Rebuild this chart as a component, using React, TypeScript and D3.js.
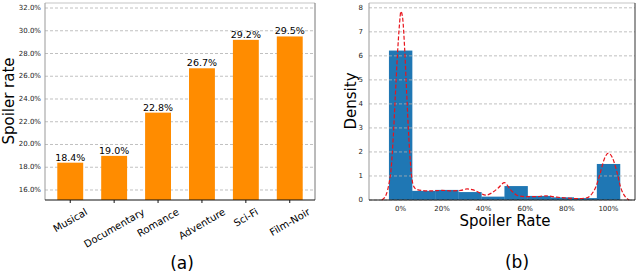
import React, { useEffect, useRef } from "react";
import * as d3 from "d3";

// (a) spoiler rate per genre
const genres = ["Musical", "Documentary", "Romance", "Adventure", "Sci-Fi", "Film-Noir"];
const genreRates = [18.4, 19.0, 22.8, 26.7, 29.2, 29.5];
const rateTicks = [16, 18, 20, 22, 24, 26, 28, 30, 32];

// (b) histogram of spoiler rate (10 bins, width 1/9, centred on 0..1)
const binEdges = [-0.0556, 0.0556, 0.1667, 0.2778, 0.3889, 0.5, 0.6111, 0.7222, 0.8333, 0.9444, 1.0556];
const binDensity = [6.22, 0.38, 0.42, 0.33, 0.14, 0.58, 0.17, 0.11, 0.08, 1.5];
const densityTicks = [0, 1, 2, 3, 4, 5, 6, 7, 8];
const pctTicks = [0, 0.2, 0.4, 0.6, 0.8, 1.0];

// kde curve
const kdeX = [-0.09, -0.07, -0.055, -0.045, -0.035, -0.025, -0.015, -0.005, 0.002, 0.01, 0.02, 0.03, 0.04, 0.05, 0.06, 0.075, 0.1, 0.15, 0.2, 0.25, 0.29, 0.32, 0.35, 0.38, 0.41, 0.44, 0.47, 0.5, 0.53, 0.56, 0.6, 0.65, 0.7, 0.75, 0.8, 0.85, 0.89, 0.92, 0.94, 0.96, 0.98, 1.0, 1.02, 1.04, 1.06, 1.08, 1.1];
const kdeY = [0, 0.2, 0.7, 1.3, 2.6, 4.3, 6.0, 7.3, 7.85, 7.6, 6.3, 4.4, 2.6, 1.3, 0.65, 0.45, 0.4, 0.38, 0.4, 0.38, 0.4, 0.46, 0.42, 0.3, 0.2, 0.3, 0.5, 0.72, 0.42, 0.2, 0.14, 0.14, 0.17, 0.12, 0.08, 0.06, 0.08, 0.25, 0.55, 1.1, 1.7, 1.95, 1.75, 1.2, 0.5, 0.15, 0];

const FONT = "DejaVu Sans, sans-serif";

export default function App() {
  const ref = useRef<SVGSVGElement>(null);

  useEffect(() => {
    const svg = d3.select(ref.current);
    svg.selectAll("*").remove();
    svg.style("font-family", FONT);

    // ---------- (a) ----------
    const left = 45, right = 315, top = 3, bottom = 200;
    const x = d3.scaleBand().domain(genres).range([left, right]).paddingInner(0.41).paddingOuter(0.28);
    const y = d3.scaleLinear().domain([15.12, 32.44]).range([bottom, top]);
    const ga = svg.append("g");

    ga.selectAll("line.grid")
      .data(rateTicks)
      .enter()
      .append("line")
      .attr("x1", left).attr("x2", right)
      .attr("y1", d => y(d)).attr("y2", d => y(d))
      .attr("stroke", "#b0b0b0").attr("stroke-width", 0.8)
      .attr("stroke-dasharray", "3,2");

    ga.selectAll("rect")
      .data(genreRates)
      .enter()
      .append("rect")
      .attr("x", (d, i) => x(genres[i]))
      .attr("width", x.bandwidth())
      .attr("y", d => y(d))
      .attr("height", d => bottom - y(d))
      .attr("fill", "#ff8c00");

    ga.selectAll("text.val")
      .data(genreRates)
      .enter()
      .append("text")
      .attr("x", (d, i) => x(genres[i]) + x.bandwidth() / 2)
      .attr("y", d => y(d) - 2)
      .attr("text-anchor", "middle")
      .style("font-size", "9.5px")
      .text(d => d.toFixed(1) + "%");

    ga.selectAll("text.ytick")
      .data(rateTicks)
      .enter()
      .append("text")
      .attr("x", 41)
      .attr("y", d => y(d))
      .attr("text-anchor", "end")
      .attr("dominant-baseline", "central")
      .style("font-size", "7px")
      .style("fill", "#222")
      .text(d => d.toFixed(1) + "%");

    // frame
    ga.append("line").attr("x1", left).attr("x2", right).attr("y1", top).attr("y2", top).attr("stroke", "#d8d8d8").attr("stroke-width", 1.5);
    ga.append("line").attr("x1", right).attr("x2", right).attr("y1", top).attr("y2", bottom).attr("stroke", "#777").attr("stroke-width", 1);
    ga.append("line").attr("x1", left).attr("x2", left).attr("y1", top).attr("y2", bottom).attr("stroke", "#999").attr("stroke-width", 1);
    ga.append("line").attr("x1", left).attr("x2", right).attr("y1", bottom).attr("y2", bottom).attr("stroke", "#111").attr("stroke-width", 1.2);

    genres.forEach(g => {
      const cx = x(g) + x.bandwidth() / 2;
      ga.append("line").attr("x1", cx).attr("x2", cx).attr("y1", bottom).attr("y2", bottom + 3).attr("stroke", "#111");
      const t = ga.append("text")
        .attr("text-anchor", "middle")
        .attr("dominant-baseline", "central")
        .style("font-size", "10px")
        .text(g);
      const L = (t.node() as SVGTextElement).getComputedTextLength();
      const h = 9;
      const bh = L * 0.5 + h * 0.866;
      t.attr("transform", "translate(" + cx + "," + (bottom + 7 + bh / 2) + ") rotate(-30)");
    });

    ga.append("text")
      .attr("transform", "translate(9,101) rotate(-90)")
      .attr("text-anchor", "middle")
      .attr("dominant-baseline", "central")
      .style("font-size", "15px")
      .text("Spoiler rate");

    ga.append("text")
      .attr("x", 182).attr("y", 263)
      .attr("text-anchor", "middle")
      .attr("dominant-baseline", "central")
      .style("font-size", "17px")
      .text("(a)");

    // ---------- (b) ----------
    const l2 = 369, r2 = 635;
    const x2 = d3.scaleLinear().domain([-0.1515, 1.128]).range([l2, r2]);
    const y2 = d3.scaleLinear().domain([0, 8.2]).range([bottom, top]);
    const gb = svg.append("g");

    gb.selectAll("rect")
      .data(binDensity)
      .enter()
      .append("rect")
      .attr("x", (d, i) => x2(binEdges[i]))
      .attr("width", (d, i) => x2(binEdges[i + 1]) - x2(binEdges[i]) + 0.3)
      .attr("y", d => y2(d))
      .attr("height", d => bottom - y2(d))
      .attr("fill", "#1f77b4");

    gb.selectAll("line.grid")
      .data(densityTicks)
      .enter()
      .append("line")
      .attr("x1", l2).attr("x2", r2)
      .attr("y1", d => y2(d)).attr("y2", d => y2(d))
      .attr("stroke", "#b0b0b0").attr("stroke-width", 0.8)
      .attr("stroke-dasharray", "3,2");

    const line = d3.line<number>()
      .x((d, i) => x2(kdeX[i]))
      .y(d => y2(d))
      .curve(d3.curveMonotoneX);

    gb.append("path")
      .attr("d", line(kdeY))
      .attr("fill", "none")
      .attr("stroke", "#e8141c")
      .attr("stroke-width", 1.2)
      .attr("stroke-dasharray", "4,2");

    gb.selectAll("text.ytick")
      .data(densityTicks)
      .enter()
      .append("text")
      .attr("x", 363)
      .attr("y", d => y2(d))
      .attr("text-anchor", "end")
      .attr("dominant-baseline", "central")
      .style("font-size", "7px")
      .style("fill", "#222")
      .text(d => d);

    gb.selectAll("text.xtick")
      .data(pctTicks)
      .enter()
      .append("text")
      .attr("x", d => x2(d))
      .attr("y", 209)
      .attr("text-anchor", "middle")
      .attr("dominant-baseline", "central")
      .style("font-size", "7px")
      .style("fill", "#222")
      .text(d => Math.round(d * 100) + "%");

    gb.append("line").attr("x1", l2).attr("x2", r2).attr("y1", top).attr("y2", top).attr("stroke", "#d8d8d8").attr("stroke-width", 1.5);
    gb.append("line").attr("x1", r2).attr("x2", r2).attr("y1", top).attr("y2", bottom).attr("stroke", "#333").attr("stroke-width", 1);
    gb.append("line").attr("x1", l2).attr("x2", l2).attr("y1", top).attr("y2", bottom).attr("stroke", "#999").attr("stroke-width", 1);
    gb.append("line").attr("x1", l2).attr("x2", r2).attr("y1", bottom).attr("y2", bottom).attr("stroke", "#111").attr("stroke-width", 1.2);

    gb.append("text")
      .attr("transform", "translate(351,101) rotate(-90)")
      .attr("text-anchor", "middle")
      .attr("dominant-baseline", "central")
      .style("font-size", "15px")
      .text("Density");

    gb.append("text")
      .attr("x", 505).attr("y", 221)
      .attr("text-anchor", "middle")
      .attr("dominant-baseline", "central")
      .style("font-size", "15px")
      .text("Spoiler Rate");

    gb.append("text")
      .attr("x", 517).attr("y", 262)
      .attr("text-anchor", "middle")
      .attr("dominant-baseline", "central")
      .style("font-size", "17px")
      .text("(b)");
  }, []);

  return (
    <svg
      ref={ref}
      width={640}
      height={272}
      style={{ position: "absolute", left: 0, top: 0, background: "#fff" }}
    />
  );
}
